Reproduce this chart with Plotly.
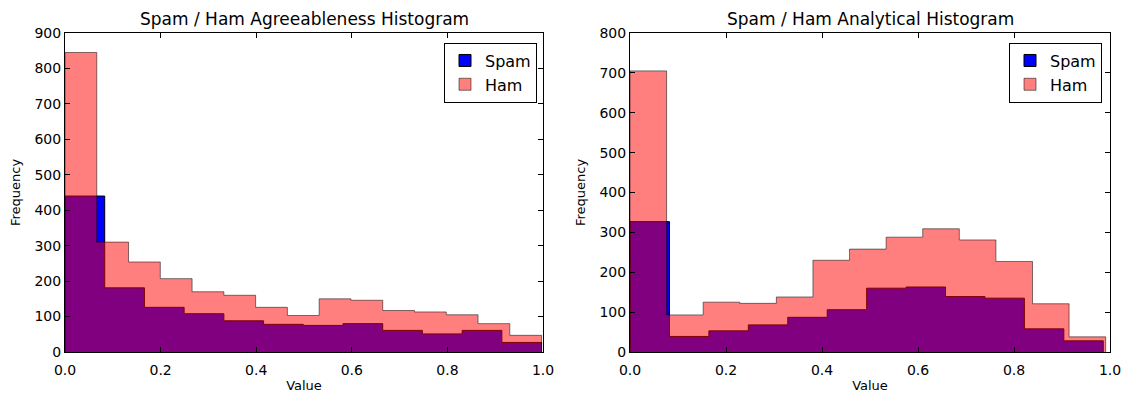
import numpy as np
import plotly.graph_objects as go

# ---------------- data (counts) ----------------
titles = ["Spam / Ham Agreeableness Histogram", "Spam / Ham Analytical Histogram"]
series_names = ["Spam", "Ham"]

# Agreeableness
agr_value_range = [0.0, 0.997]
agr_spam_counts = [440, 181, 126, 108, 88, 78, 75, 80, 61, 51, 61, 27]
agr_ham_counts = [845, 310, 254, 207, 170, 160, 126, 103, 150, 146, 117, 113, 105, 80, 47]

# Analytical
ana_spam_range = [0.0, 0.986]
ana_ham_range = [0.0, 0.991]
ana_spam_counts = [327, 39, 53, 68, 87, 106, 160, 163, 139, 135, 58, 28]
ana_ham_counts = [705, 93, 125, 122, 138, 230, 258, 288, 309, 281, 227, 121, 38]

x_ticks = [0.0, 0.2, 0.4, 0.6, 0.8, 1.0]
y_max = [900, 800]

# ---------------- helpers ----------------
def step_outline(vrange, counts):
    edges = np.linspace(vrange[0], vrange[1], len(counts) + 1)
    xs = [edges[0]] + list(edges[:-1]) + [edges[-1], edges[-1]]
    ys = [0] + list(counts) + [counts[-1], 0]
    return xs, ys

SPAM_FILL = "rgb(0,0,255)"
SPAM_LINE = "black"
HAM_FILL = "rgba(255,0,0,0.5)"
HAM_LINE = "rgba(0,0,0,0.5)"

fig = go.Figure()

panels = [
    (agr_value_range, agr_spam_counts, agr_value_range, agr_ham_counts, "x", "y", "legend"),
    (ana_spam_range, ana_spam_counts, ana_ham_range, ana_ham_counts, "x2", "y2", "legend2"),
]

for srange, scounts, hrange, hcounts, xa, ya, lg in panels:
    sx, sy = step_outline(srange, scounts)
    hx, hy = step_outline(hrange, hcounts)
    fig.add_trace(go.Scatter(x=sx, y=sy, mode="lines", line=dict(shape="hv", color=SPAM_LINE, width=1),
                             fill="toself", fillcolor=SPAM_FILL, showlegend=False,
                             xaxis=xa, yaxis=ya, hoverinfo="skip"))
    fig.add_trace(go.Scatter(x=hx, y=hy, mode="lines", line=dict(shape="hv", color=HAM_LINE, width=1),
                             fill="toself", fillcolor=HAM_FILL, showlegend=False,
                             xaxis=xa, yaxis=ya, hoverinfo="skip"))
    # legend entries
    fig.add_trace(go.Bar(x=[None], y=[None], name=series_names[0], legend=lg,
                         marker=dict(color=SPAM_FILL, line=dict(color=SPAM_LINE, width=1)),
                         xaxis=xa, yaxis=ya))
    fig.add_trace(go.Bar(x=[None], y=[None], name=series_names[1], legend=lg,
                         marker=dict(color=HAM_FILL, line=dict(color=HAM_LINE, width=1)),
                         xaxis=xa, yaxis=ya))

W, H = 1123, 394
ml, mr, mt, mb = 65, 13, 33, 42
pw = W - ml - mr

font = "DejaVu Sans"
axis_common = dict(showline=True, linecolor="black", linewidth=1, mirror="ticks",
                   ticks="inside", ticklen=5, tickcolor="black", showgrid=False,
                   zeroline=False, automargin=False,
                   tickfont=dict(family=font, size=14, color="black"))

left_dom = [0, (543 - ml) / pw]
right_dom = [(630 - ml) / pw, 1.0]

fig.update_layout(
    width=W, height=H,
    margin=dict(l=ml, r=mr, t=mt, b=mb),
    paper_bgcolor="white", plot_bgcolor="white",
    font=dict(family=font, color="black"),
    xaxis=dict(domain=left_dom, range=[0, 1], tickvals=x_ticks, tickformat=".1f", type="linear",
               ticklabelstandoff=5,
               title=dict(text="Value", font=dict(size=13), standoff=4), anchor="y", **axis_common),
    yaxis=dict(domain=[0, 1], range=[0, y_max[0]], dtick=100, type="linear",
               title=dict(text="Frequency", font=dict(size=13), standoff=10), anchor="x", **axis_common),
    xaxis2=dict(domain=right_dom, range=[0, 1], tickvals=x_ticks, tickformat=".1f", type="linear",
                ticklabelstandoff=5,
                title=dict(text="Value", font=dict(size=13), standoff=4), anchor="y2", **axis_common),
    yaxis2=dict(domain=[0, 1], range=[0, y_max[1]], dtick=100, type="linear",
                title=dict(text="Frequency", font=dict(size=13), standoff=10), anchor="x2", **axis_common),
    legend=dict(x=(537 - ml) / pw, xanchor="right", y=0.97, yanchor="top",
                bordercolor="black", borderwidth=1, bgcolor="white",
                font=dict(family=font, size=16, color="black")),
    legend2=dict(x=(1102 - ml) / pw, xanchor="right", y=0.97, yanchor="top",
                 bordercolor="black", borderwidth=1, bgcolor="white",
                 font=dict(family=font, size=16, color="black")),
    showlegend=True,
)

for dom, t in zip([left_dom, right_dom], titles):
    fig.add_annotation(text=t, xref="paper", yref="paper", x=(dom[0] + dom[1]) / 2, y=1,
                       xanchor="center", yanchor="bottom", yshift=2, showarrow=False,
                       font=dict(family=font, size=17, color="black"))

fig.write_html("out.html")
